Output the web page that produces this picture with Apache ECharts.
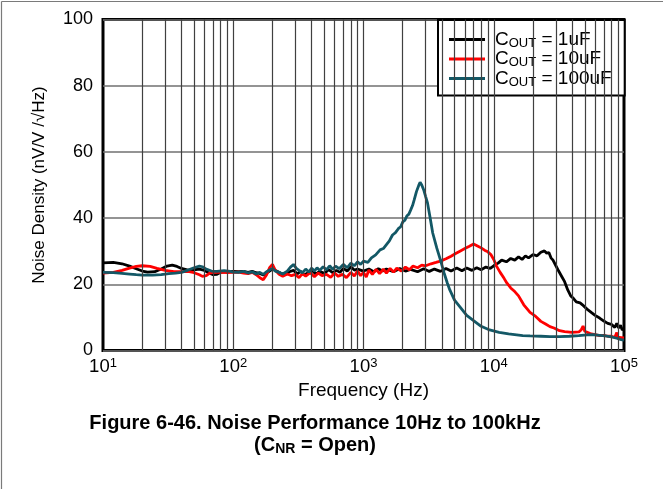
<!DOCTYPE html>
<html>
<head>
<meta charset="utf-8">
<script src="https://cdn.jsdelivr.net/npm/echarts@6/dist/echarts.min.js"></script>
<style>
html,body{margin:0;padding:0;background:#fff;}
#c{width:663px;height:489px;}
</style>
</head>
<body>
<div id="c"></div>
<script>
// ---- data ----
const seriesNames = ['C_OUT = 1uF', 'C_OUT = 10uF', 'C_OUT = 100uF'];
const xTicks = [10, 100, 1000, 10000, 100000];
const yTicks = [0, 20, 40, 60, 80, 100];
const vGridLines = [20,30,40,50,60,70,80,90,100,200,300,400,500,600,700,800,900,1000,2000,3000,4000,5000,6000,7000,8000,9000,10000,20000,30000,40000,50000,60000,70000,80000,90000];

const freq1uF = [10,12,14,16,18,20,22,25,28,31,34,37,40,45,50,55,60,65,70,75,80,90,100,110,120,130,140,150,160,170,185,200,215,230,250,270,290,310,330,350,380,400,430,460,500,540,580,620,660,700,750,800,850,900,1000,1100,1200,1300,1400,1500,1700,1900,2100,2300,2600,2900,3200,3500,3900,4300,4700,5200,5700,6200,6800,7400,8000,8700,9400,10000,10800,11500,12500,13500,14500,15500,16500,17500,18500,20000,21500,23000,24500,25500,26500,27500,28500,30000,31500,33000,35000,37000,39000,41000,43000,46000,48000,52000,56000,60000,65000,70000,75000,80000,85000,88000,91000,94000,97000,100000];
const noise1uF = [26.5,26.6,26.2,25.5,24.7,24.0,23.7,23.8,24.6,25.5,25.8,25.4,24.8,24.3,24.4,24.6,24.2,23.4,22.9,23.0,23.6,23.9,23.9,23.8,23.9,23.6,23.9,23.5,23.3,22.8,23.7,24.6,24.0,23.4,22.9,23.8,24.2,23.2,23.9,22.8,23.6,24.3,23.1,23.9,23.3,24.4,23.5,24.2,23.6,24.8,24.0,25.3,24.3,24.6,24.0,24.6,23.8,24.7,24.0,24.6,23.8,24.8,24.0,24.5,23.8,24.7,23.9,24.6,23.9,24.8,24.0,24.9,24.1,24.9,24.2,25.0,24.4,25.2,24.8,25.6,26.4,27.3,26.8,27.8,27.3,28.3,27.5,28.6,28.0,29.0,28.6,29.7,30.1,29.4,29.6,28.0,27.3,25.6,24.0,22.6,20.8,18.3,16.5,15.7,14.7,14.4,13.8,12.5,11.5,10.6,9.8,8.9,8.2,7.9,7.0,8.2,6.8,7.6,6.2,6.6];

const freq10uF = [10,12,14,16,18,20,23,26,30,35,40,45,50,55,58,62,66,72,80,90,100,110,120,130,140,150,160,170,180,190,200,210,225,240,260,280,300,320,340,360,390,420,450,480,520,560,600,640,690,740,800,850,900,950,1000,1050,1100,1170,1250,1330,1420,1500,1600,1700,1800,1950,2100,2250,2400,2600,2800,3000,3300,3600,3900,4300,4700,5100,5500,6000,6500,7000,7500,8000,8500,9000,9500,10000,10500,11200,12000,12600,13500,14500,15500,17000,19000,21000,23000,25000,27000,29000,32000,35000,40000,45000,47000,48500,50000,55000,60000,65000,70000,75000,80000,85000,88000,90000,95000,100000];
const noise10uF = [23.4,23.6,24.2,24.9,25.4,25.6,25.4,24.8,24.2,23.8,23.8,23.9,23.5,22.9,22.4,22.6,23.4,23.7,23.6,23.5,23.6,23.7,23.4,23.2,23.6,22.9,22.0,21.4,22.8,25.0,26.0,24.3,23.0,22.4,23.1,22.6,23.0,22.0,23.2,22.5,23.5,22.3,23.4,22.6,23.0,22.1,23.4,22.4,23.0,22.0,23.6,22.5,24.0,22.6,23.6,22.2,24.3,23.0,24.5,23.2,24.6,23.4,24.8,23.7,24.9,24.0,25.2,24.4,25.5,25.0,25.8,25.6,26.2,26.6,27.0,27.7,28.5,29.3,30.0,30.8,31.5,32.2,31.6,31.0,30.3,29.8,29.0,27.5,25.5,23.6,21.8,20.4,18.9,17.8,16.5,13.8,11.5,10.3,8.8,8.0,7.2,6.8,6.0,5.7,5.5,5.6,6.3,7.4,5.8,5.1,4.8,4.5,4.6,4.3,4.3,4.0,5.4,4.0,3.9,3.8];

const freq100uF = [10,12,14,16,18,20,24,28,32,36,40,45,50,55,58,62,68,75,85,95,100,110,120,130,140,150,160,170,180,190,200,210,225,240,260,275,290,305,320,340,360,380,400,420,440,460,490,520,550,580,610,650,700,750,800,850,900,950,1000,1080,1150,1240,1340,1420,1500,1580,1670,1760,1850,1930,2000,2080,2150,2230,2300,2380,2450,2550,2650,2720,2800,2900,3000,3100,3250,3400,3650,3900,4150,4400,4600,5000,5500,6200,7000,8000,9300,11000,13000,16700,19000,23000,27000,32000,38000,45000,52000,58000,65000,72000,80000,88000,95000,100000];
const noise100uF = [23.6,23.5,23.3,23.1,22.9,22.8,22.8,22.9,23.2,23.4,23.6,24.3,25.0,25.5,25.3,24.6,24.0,23.9,24.1,23.9,23.7,23.6,23.9,23.4,23.8,23.1,23.6,23.0,23.8,24.3,24.8,24.0,23.6,23.1,24.0,25.2,26.0,24.8,24.2,23.5,24.6,23.7,24.9,24.0,25.0,24.2,25.3,24.4,25.6,24.5,25.5,24.7,26.0,25.0,26.4,25.6,26.8,26.0,27.0,26.6,28.0,28.9,30.4,30.8,32.0,33.1,34.9,35.6,36.8,37.4,38.8,39.4,40.6,41.2,42.4,43.8,45.5,48.0,49.8,50.8,50.0,48.5,46.5,44.6,40.0,35.5,31.0,27.3,23.5,20.4,18.3,15.2,13.2,10.6,9.0,7.3,6.2,5.5,5.0,4.5,4.4,4.3,4.2,4.2,4.3,4.5,4.7,4.8,4.6,4.4,4.1,3.7,3.3,3.1];

// ---- build ----
const colors = ['#000000', '#ff0000', '#135866'];
const FONT = '"Liberation Sans", Arial, sans-serif';
function pairs(xs, ys) { return xs.map((x, i) => [x, ys[i]]); }
const seriesData = [pairs(freq1uF, noise1uF), pairs(freq10uF, noise10uF), pairs(freq100uF, noise100uF)];

const chart = echarts.init(document.getElementById('c'), null, {renderer: 'canvas'});

const series = [{
  name: 'vgrid', type: 'line', data: [], z: 1, silent: true,
  markLine: {
    silent: true, symbol: ['none', 'none'], animation: false,
    label: {show: false},
    lineStyle: {color: '#404040', width: 1.2, type: 'solid'},
    emphasis: {disabled: true},
    data: vGridLines.map(v => ({xAxis: v}))
  }
}];
seriesNames.forEach((n, i) => {
  series.push({
    name: n, type: 'line', data: seriesData[i], z: 2 + i,
    showSymbol: false, symbol: 'none', smooth: false,
    lineStyle: {color: colors[i], width: 2.8},
    itemStyle: {color: colors[i]}
  });
});

const option = {
  animation: false,
  backgroundColor: '#fff',
  textStyle: {fontFamily: FONT},
  title: {
    left: 310, top: 407, textAlign: 'center',
    text: '{t|Figure 6-46. Noise Performance 10Hz to 100kHz}\n{t|(C}{s|NR}{t| = Open)}',
    textStyle: {
      rich: {
        t: {fontFamily: FONT, fontSize: 20, fontWeight: 'bold', color: '#000', lineHeight: 22, align: 'center'},
        s: {fontFamily: FONT, fontSize: 14, fontWeight: 'bold', color: '#000', lineHeight: 14, verticalAlign: 'bottom', align: 'center'}
      }
    }
  },
  grid: {left: 103, top: 19.5, width: 521, height: 331, show: true, borderColor: '#000', borderWidth: 3, backgroundColor: 'transparent'},
  legend: {
    data: seriesNames,
    orient: 'vertical', left: 438, top: 20,
    padding: [10, 13, 7, 11],
    itemGap: 0, itemWidth: 36, itemHeight: 3, icon: 'rect',
    backgroundColor: '#fff', borderColor: '#000', borderWidth: 2, borderRadius: 0,
    selectedMode: false,
    formatter: function (name) {
      const rest = name.replace('C_OUT', '');
      return '{c|C}{s|OUT}{c|' + rest + '}';
    },
    textStyle: {
      padding: [0, 0, 0, 5],
      rich: {
        c: {fontFamily: FONT, fontSize: 19, color: '#000', lineHeight: 20},
        s: {fontFamily: FONT, fontSize: 13, color: '#000', lineHeight: 14, verticalAlign: 'bottom'}
      }
    }
  },
  xAxis: {
    type: 'log', logBase: 10, min: xTicks[0], max: xTicks[xTicks.length - 1],
    name: 'Frequency (Hz)', nameLocation: 'middle', nameGap: 30,
    nameTextStyle: {fontFamily: FONT, fontSize: 19, color: '#000', verticalAlign: 'top'},
    axisLine: {show: false}, axisTick: {show: false},
    splitLine: {show: false}, minorSplitLine: {show: false},
    axisLabel: {
      margin: 6, showMinLabel: true, showMaxLabel: true,
      formatter: function (v) {
        const e = Math.round(Math.log10(v));
        return '{b|10}{e|' + e + '}';
      },
      rich: {
        b: {fontFamily: FONT, fontSize: 18.5, color: '#000', lineHeight: 21},
        e: {fontFamily: FONT, fontSize: 13, color: '#000', lineHeight: 13, verticalAlign: 'top'}
      }
    }
  },
  yAxis: {
    type: 'value', min: yTicks[0], max: yTicks[yTicks.length - 1], interval: 20,
    name: 'Noise Density (nV/V /√Hz)', nameLocation: 'middle', nameGap: 55,
    nameTextStyle: {fontFamily: FONT, fontSize: 17, color: '#000'},
    axisLine: {show: false}, axisTick: {show: false},
    axisLabel: {margin: 10, fontFamily: FONT, fontSize: 18, color: '#000'},
    splitLine: {show: true, lineStyle: {color: '#707070', width: 1.5}}
  },
  graphic: [
    {type: 'line', shape: {x1: 1.5, y1: 1.5, x2: 663, y2: 1.5}, style: {stroke: '#7a7a7a', lineWidth: 1.2}, silent: true},
    {type: 'line', shape: {x1: 1.5, y1: 1.5, x2: 1.5, y2: 489}, style: {stroke: '#7a7a7a', lineWidth: 1.2}, silent: true}
  ],
  series: series
};
chart.setOption(option);
</script>
</body>
</html>
